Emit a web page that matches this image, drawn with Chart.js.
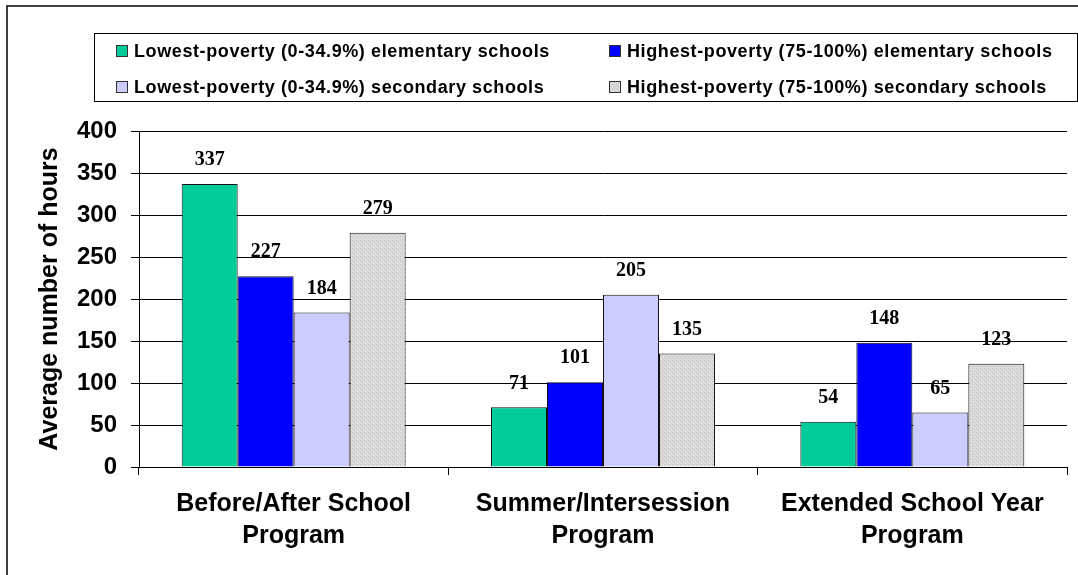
<!DOCTYPE html>
<html>
<head>
<meta charset="utf-8">
<script src="https://cdn.jsdelivr.net/npm/chart.js@4.4.1/dist/chart.umd.min.js"></script>
<style>
  body { margin: 0; background: #fff; }
  #wrap { width: 1078px; height: 575px; position: relative; }
</style>
</head>
<body>
<div id="wrap"><canvas id="chart"></canvas></div>
<script>
const categories = [
    ["Before/After School", "Program"],
    ["Summer/Intersession", "Program"],
    ["Extended School Year", "Program"],
];
const seriesLabels = [
    "Lowest-poverty (0-34.9%) elementary schools",
    "Highest-poverty (75-100%) elementary schools",
    "Lowest-poverty (0-34.9%) secondary schools",
    "Highest-poverty (75-100%) secondary schools",
];
const lowestElementary = [337, 71, 54];
const highestElementary = [227, 101, 148];
const lowestSecondary = [184, 205, 65];
const highestSecondary = [279, 135, 123];
const yMin = 0;
const yMax = 400;
const yStep = 50;

const ctx = document.getElementById("chart");
const sansFont = "'Liberation Sans', Arial, sans-serif";
const serifFont = "'Liberation Serif', 'Times New Roman', serif";

// fine dotted gray fill like the Excel pattern
function grayPattern() {
    const c = document.createElement("canvas");
    c.width = 4;
    c.height = 4;
    const g = c.getContext("2d");
    g.fillStyle = "#d8d8d8";
    g.fillRect(0, 0, 4, 4);
    g.fillStyle = "#c2c2c2";
    g.fillRect(0, 0, 1, 1);
    g.fillRect(2, 2, 1, 1);
    g.fillStyle = "#e6e6e6";
    g.fillRect(1, 3, 1, 1);
    g.fillRect(3, 1, 1, 1);
    return ctx.getContext("2d").createPattern(c, "repeat");
}

const colors = ["#00cc99", "#0000ff", "#ccccff", grayPattern()];
const seriesValues = [lowestElementary, highestElementary, lowestSecondary, highestSecondary];

const frameAndLegend = {
    id: "frameAndLegend",
    beforeDraw(chart) {
        const c = chart.ctx;
        c.save();
        c.fillStyle = "#fff";
        c.fillRect(0, 0, chart.width, chart.height);
        c.restore();
    },
    afterDraw(chart) {
        const c = chart.ctx;
        c.save();
        c.strokeStyle = "#000";
        c.lineWidth = 1.5;
        c.strokeRect(7, 6, chart.width + 20, chart.height + 20);
        c.lineWidth = 1;
        c.strokeRect(94.5, 33.5, 983, 68);
        const colX = [116, 609];
        const rowY = [51, 87];
        c.font = "bold 18px " + sansFont;
        c.letterSpacing = "0.6px";
        c.textBaseline = "middle";
        chart.data.datasets.forEach((ds, i) => {
            const x = colX[i % 2];
            const y = rowY[Math.floor(i / 2)];
            c.fillStyle = ds.backgroundColor;
            c.fillRect(x, y - 6, 12, 12);
            c.strokeStyle = "#333";
            c.strokeRect(x + 0.5, y - 5.5, 11, 11);
            c.fillStyle = "#000";
            c.fillText(ds.label, x + 18, y + 1);
        });
        c.restore();
    },
    afterDatasetsDraw(chart) {
        const c = chart.ctx;
        c.save();
        c.font = "bold 20px " + serifFont;
        c.fillStyle = "#000";
        c.textAlign = "center";
        c.textBaseline = "middle";
        chart.data.datasets.forEach((ds, i) => {
            chart.getDatasetMeta(i).data.forEach((bar, j) => {
                c.fillText(String(ds.data[j]), bar.x, bar.y - 24);
            });
        });
        c.restore();
    },
};

const config = {
    type: "bar",
    data: {
        labels: categories,
        datasets: seriesLabels.map((label, i) => ({
            label: label,
            data: seriesValues[i],
            backgroundColor: colors[i],
            borderColor: "#111",
            borderWidth: 1,
            barPercentage: 1,
            categoryPercentage: 0.724,
        })),
    },
    options: {
        responsive: true,
        maintainAspectRatio: false,
        animation: false,
        layout: {
            padding: { left: 7, top: 131, right: 11, bottom: 0 },
        },
        plugins: {
            legend: { display: false },
            tooltip: { enabled: false },
        },
        scales: {
            x: {
                grid: {
                    drawOnChartArea: false,
                    color: "#000",
                    tickLength: 8,
                },
                border: { color: "#000", width: 1 },
                ticks: {
                    color: "#000",
                    padding: 13,
                    font: { family: sansFont, size: 25, weight: "bold", lineHeight: 1.28 },
                },
                afterFit(scale) {
                    scale.height = 108;
                },
            },
            y: {
                min: yMin,
                max: yMax,
                ticks: {
                    stepSize: yStep,
                    color: "#000",
                    padding: 14,
                    font: { family: sansFont, size: 24, weight: "bold" },
                },
                grid: {
                    color: "#000",
                    tickLength: 8,
                },
                border: { color: "#000", width: 1 },
                title: {
                    display: true,
                    text: "Average number of hours",
                    color: "#000",
                    font: { family: sansFont, size: 25, weight: "bold" },
                    padding: { top: 28, bottom: 0 },
                },
                afterFit(scale) {
                    scale.width = 132;
                },
            },
        },
    },
    plugins: [frameAndLegend],
};

new Chart(ctx, config);
</script>
</body>
</html>
